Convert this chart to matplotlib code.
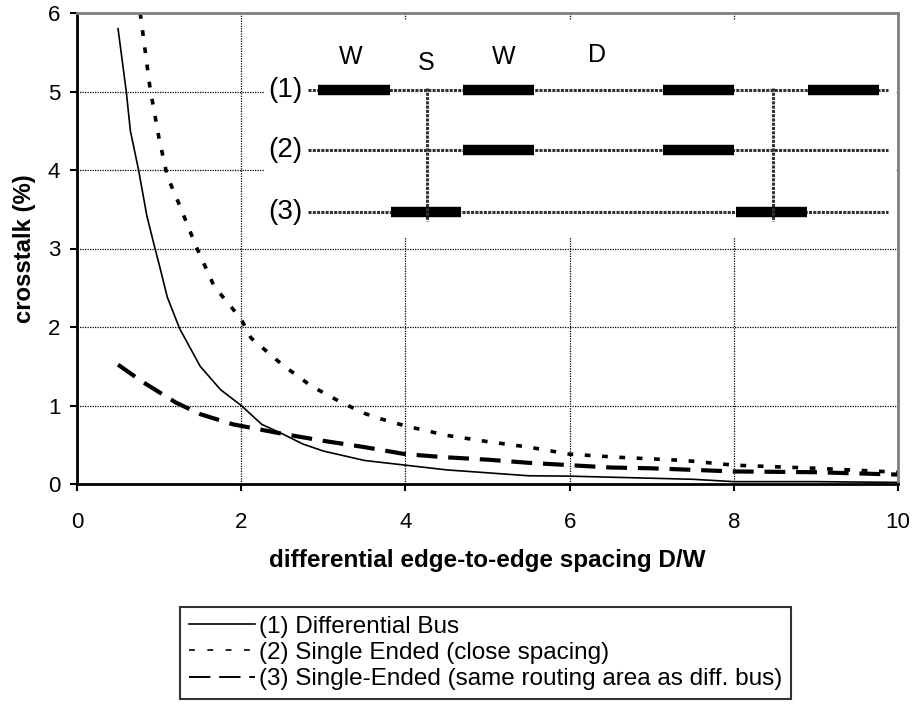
import numpy as np
import matplotlib.pyplot as plt
from matplotlib.lines import Line2D

plt.rcParams['font.family'] = ['Liberation Sans', 'DejaVu Sans']

# curve data
x_diff = [0.5, 0.55, 0.6, 0.65, 0.75, 0.85, 0.95, 1.0, 1.1, 1.25, 1.5, 1.75, 2.0,
          2.25, 2.5, 2.75, 3.0, 3.25, 3.5, 4.0, 4.5, 5.5, 6.0, 6.75, 7.5, 8.0, 9.0, 10.0]
y_diff = [5.8, 5.4, 5.0, 4.5, 4.0, 3.42, 3.0, 2.8, 2.38, 1.98, 1.5, 1.2, 1.0,
          0.76, 0.64, 0.51, 0.42, 0.36, 0.3, 0.24, 0.18, 0.105, 0.1, 0.08, 0.06, 0.03, 0.03, 0.02]

x_close = [0.77, 0.89, 1.0, 1.1, 1.25, 1.45, 1.67, 2.0, 2.12, 2.5, 2.85, 3.2, 3.5, 3.7,
           4.0, 4.5, 5.0, 5.5, 6.0, 6.6, 7.4, 8.0, 8.5, 9.0, 10.0]
y_close = [6.0, 5.04, 4.4, 3.92, 3.55, 3.03, 2.52, 2.1, 1.86, 1.52, 1.25, 1.05, 0.9, 0.83,
           0.74, 0.62, 0.54, 0.47, 0.38, 0.34, 0.30, 0.24, 0.22, 0.2, 0.15]

x_same = [0.5, 0.8, 1.2, 1.5, 1.9, 2.5, 3.0, 3.5, 4.0, 4.5, 5.0, 5.5, 6.0, 6.5, 7.0, 8.0, 9.0, 10.0]
y_same = [1.52, 1.3, 1.04, 0.89, 0.76, 0.64, 0.55, 0.47, 0.38, 0.34, 0.31, 0.27, 0.24, 0.21,
          0.2, 0.16, 0.15, 0.12]

labels = ['(1) Differential Bus',
          '(2) Single Ended (close spacing)',
          '(3) Single-Ended (same routing area as diff. bus)']

# inset sketch (figure pixels)
row_y = [90, 150, 212]
row_names = ['(1)', '(2)', '(3)']
thick = [[(318, 390), (463, 534), (663, 734), (808, 879)],
         [(463, 534), (663, 734)],
         [(391, 461), (736, 807)]]
via_x = [427, 773]
dim_text = [('W', 351, 57), ('S', 426, 63), ('W', 504, 57), ('D', 597, 55)]

W, H = 914, 717
fig = plt.figure(figsize=(W / 100, H / 100), dpi=100)
ax = fig.add_axes([77 / W, 1 - 484 / H, (898 - 77) / W, (484 - 13) / H])

ax.plot(x_diff, y_diff, color='black', lw=1.2)
ax.plot(x_close, y_close, color='black', lw=2.6, linestyle=(0, (1.6, 3.2)))
ax.plot(x_same, y_same, color='black', lw=3, linestyle=(0, (5, 2.6)))

ax.set_xlim(0, 10)
ax.set_ylim(0, 6)
ax.set_xticks(np.arange(0, 11, 2))
ax.set_yticks(np.arange(0, 7, 1))
ax.grid(True, color='black', linestyle=(0, (1, 1)), lw=0.9)
ax.set_axisbelow(True)
ax.tick_params(labelsize=16, direction='out', length=5, width=1.5)
ax.tick_params(axis='x', pad=15)
ax.tick_params(axis='y', pad=7)
for s in ['left', 'bottom']:
    ax.spines[s].set_linewidth(2)
for s in ['top', 'right']:
    ax.spines[s].set_color('#808080')
    ax.spines[s].set_linewidth(2)
ax.set_xlabel('differential edge-to-edge spacing D/W', fontsize=17.5, fontweight='bold', va='center')
ax.xaxis.set_label_coords(0.5, (484 - 561) / 471)
ax.set_ylabel('crosstalk (%)', fontsize=17.2, fontweight='bold', va='center')
ax.yaxis.set_label_coords((25 - 77) / 821, 0.5)

# inset sketch on a white patch
axi = fig.add_axes([265 / W, 1 - 238 / H, (896 - 265) / W, (238 - 20) / H])
axi.set_xlim(265, 896)
axi.set_ylim(238, 20)
axi.set_xticks([])
axi.set_yticks([])
for s in axi.spines.values():
    s.set_visible(False)
for y, name, segs in zip(row_y, row_names, thick):
    axi.plot([308, 888], [y, y], color='#333333', lw=2.2, linestyle=(0, (1, 0.4)))
    for a, b in segs:
        axi.plot([a, b], [y, y], color='black', lw=7.5, solid_capstyle='butt')
    axi.text(302, y, name, fontsize=20, ha='right', va='center')
for vx in via_x:
    axi.plot([vx, vx], [row_y[0] - 2, row_y[2] + 9], color='#333333', lw=2.2, linestyle=(0, (1, 0.4)))
for t, tx, ty in dim_text:
    axi.text(tx, ty, t, fontsize=18, ha='center', va='center')

handles = [Line2D([], [], color='black', lw=1.2),
           Line2D([], [], color='black', lw=1.2, linestyle=(0, (3.5, 7.5))),
           Line2D([], [], color='black', lw=1.4, linestyle=(0, (11, 4.5)))]
leg = fig.legend(handles, labels, loc='upper left', bbox_to_anchor=(180 / W, 1 - 607 / H),
                 fontsize=17.5, frameon=True, fancybox=False, edgecolor='black',
                 handlelength=2.75, handletextpad=0.15, labelspacing=0.18, borderpad=0.35,
                 borderaxespad=0)
leg.get_frame().set_linewidth(1.5)

fig.savefig('out.png', dpi=100)
